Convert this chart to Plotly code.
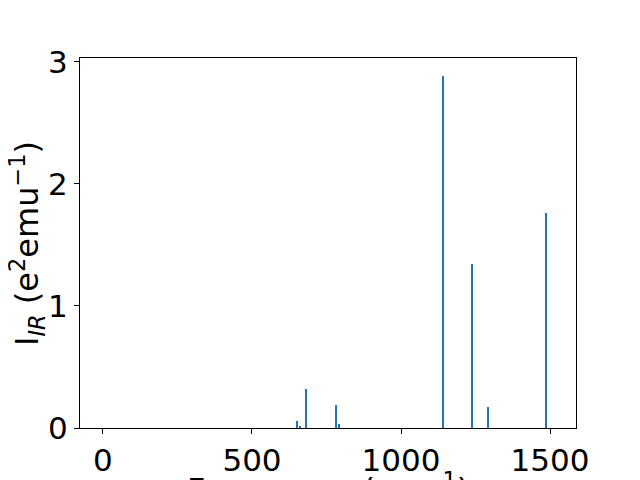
import plotly.graph_objects as go

freqs = [652, 662, 683, 783, 793, 1142, 1239, 1293, 1488]
intensities = [0.06, 0.02, 0.32, 0.19, 0.03, 2.88, 1.34, 0.17, 1.76]
x_ticks = [0, 500, 1000, 1500]
y_ticks = [0, 1, 2, 3]

fig = go.Figure()
fig.add_trace(go.Bar(x=freqs, y=intensities, width=4,
                     marker=dict(color="#1f77b4", line=dict(width=0))))

font = "DejaVu Sans"
fig.update_layout(
    width=640, height=480,
    margin=dict(l=72, r=72, t=50, b=60, autoexpand=False),
    plot_bgcolor="white", paper_bgcolor="white",
    showlegend=False,
    font=dict(family=font, color="black"),
    bargap=0,
)
fig.update_xaxes(range=[-77, 1587], tickvals=x_ticks, ticktext=[str(v) for v in x_ticks],
                 showline=True, mirror=True, linecolor="black", linewidth=1,
                 ticks="outside", ticklen=5, tickwidth=1, tickcolor="black",
                 showgrid=False, zeroline=False, automargin=False,
                 tickfont=dict(size=31, family=font))
fig.update_yaxes(range=[0, 3.03], tickvals=y_ticks, ticktext=[str(v) for v in y_ticks],
                 showline=True, mirror=True, linecolor="black", linewidth=1,
                 ticks="outside", ticklen=5, tickwidth=1, tickcolor="black",
                 showgrid=False, zeroline=False, automargin=False,
                 tickfont=dict(size=31, family=font))
fig.add_annotation(text="I<sub><i>IR</i></sub> (e<sup>2</sup>emu<sup>−1</sup>)",
                   xref="paper", yref="paper", x=-0.107, y=0.5, textangle=-90,
                   xanchor="center", yanchor="middle", showarrow=False,
                   font=dict(size=32, family=font))
fig.add_annotation(text="Frequency (cm<sup>−1</sup>)", xref="paper", yref="paper",
                   x=0.5, y=-0.099, yanchor="top", xanchor="center", showarrow=False,
                   font=dict(size=32, family=font))
fig.write_html("out.html")
